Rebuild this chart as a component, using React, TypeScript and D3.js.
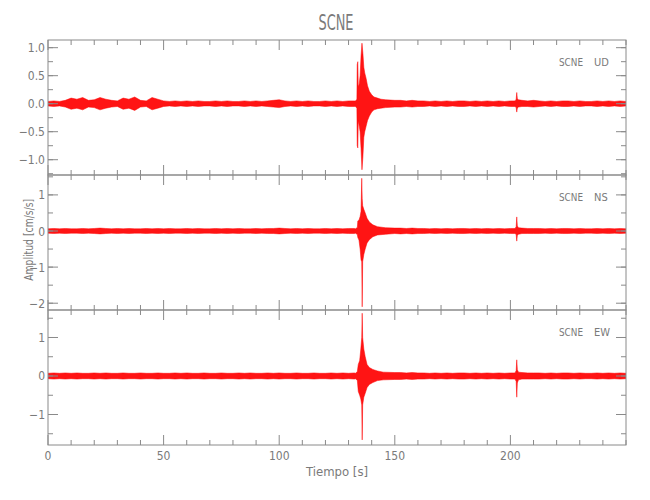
import React from "react";
import * as d3 from "d3";

// ---------- DATA ----------
const timeDomain = [0, 250];
const bgStep = 2.5; // seconds between background envelope readings
const channels = ["UD", "NS", "EW"];
const station = "SCNE";

// background half-width of the trace (hundredths of cm/s/s), every 2.5 s from 0 to 250 s
const udBackground = [
  4, 5, 4, 6, 10, 8, 11, 6, 7, 11,
  8, 6, 5, 10, 8, 12, 6, 5, 11, 8,
  5, 4, 5, 4, 5, 4, 5, 4, 4, 5,
  4, 5, 4, 4, 5, 4, 5, 4, 5, 6,
  7, 5, 4, 5, 4, 5, 4, 4, 5, 4,
  5, 4, 5, 5, 6, 6, 6, 6, 6, 6,
  6, 6, 5, 6, 5, 5, 4, 5, 4, 5,
  4, 5, 5, 4, 5, 4, 5, 4, 5, 4,
  5, 5, 6, 5, 6, 5, 4, 5, 4, 5,
  5, 4, 5, 4, 4, 5, 4, 5, 4, 5, 4,
];
const nsBackground = [
  6, 7, 6, 7, 6, 6, 7, 6, 7, 8,
  7, 6, 7, 6, 7, 6, 6, 7, 6, 7,
  6, 7, 6, 6, 7, 6, 7, 6, 6, 7,
  6, 7, 6, 7, 6, 6, 7, 6, 7, 7,
  8, 7, 6, 7, 6, 7, 6, 6, 7, 6,
  7, 6, 7, 7, 8, 8, 8, 8, 8, 8,
  8, 8, 7, 8, 7, 7, 6, 7, 6, 7,
  6, 7, 7, 6, 7, 6, 7, 6, 7, 6,
  7, 7, 8, 7, 7, 7, 6, 7, 6, 7,
  7, 6, 7, 6, 6, 7, 6, 7, 6, 7, 6,
];
const ewBackground = [
  7, 8, 7, 8, 7, 8, 7, 7, 8, 7,
  8, 7, 7, 8, 7, 7, 8, 7, 7, 8,
  7, 7, 8, 7, 8, 7, 7, 8, 7, 7,
  8, 7, 7, 8, 7, 8, 7, 7, 8, 7,
  8, 7, 7, 8, 7, 7, 8, 7, 7, 8,
  7, 8, 7, 8, 9, 9, 9, 9, 9, 9,
  9, 9, 8, 9, 8, 8, 7, 8, 7, 8,
  7, 8, 8, 7, 8, 7, 8, 7, 8, 7,
  8, 8, 9, 8, 8, 8, 7, 8, 7, 8,
  8, 7, 8, 7, 7, 8, 7, 8, 7, 8, 7,
];

// event envelopes: [time s, max, min] in cm/s/s
const udEvent = [
  [133.0, 0.05, -0.05], [133.6, 0.08, -0.08], [133.75, 0.7, -0.75], [134.0, 0.75, -0.79],
  [134.2, 0.3, -0.3], [134.6, 0.35, -0.4], [135.0, 0.5, -0.5], [135.4, 0.85, -0.8],
  [135.8, 1.08, -1.18], [136.2, 0.9, -0.95], [136.6, 0.65, -0.6], [137.0, 0.55, -0.5],
  [137.6, 0.45, -0.4], [138.2, 0.32, -0.3], [139.0, 0.22, -0.22], [140.0, 0.16, -0.15],
  [141.0, 0.12, -0.11], [142.5, 0.1, -0.09], [144.0, 0.08, -0.08], [146.0, 0.07, -0.07],
  [150.0, 0.06, -0.06],
];
const nsEvent = [
  [133.0, 0.06, -0.06], [133.8, 0.1, -0.1], [134.0, 0.28, -0.18], [134.5, 0.3, -0.25],
  [135.0, 0.4, -0.5], [135.4, 0.55, -0.8], [135.7, 1.46, -0.85], [135.9, 0.9, -2.1],
  [136.1, 0.7, -0.85], [136.6, 0.6, -0.65], [137.2, 0.5, -0.5], [138.0, 0.35, -0.33],
  [139.0, 0.25, -0.24], [140.5, 0.17, -0.16], [142.5, 0.12, -0.11], [146.0, 0.09, -0.09],
  [150.0, 0.08, -0.07],
];
const ewEvent = [
  [133.0, 0.07, -0.07], [133.8, 0.12, -0.12], [134.2, 0.3, -0.4], [134.8, 0.4, -0.5],
  [135.3, 0.7, -0.6], [135.7, 1.0, -0.75], [135.9, 1.63, -1.66], [136.1, 1.0, -0.75],
  [136.6, 0.7, -0.55], [137.2, 0.5, -0.45], [138.0, 0.3, -0.3], [139.0, 0.22, -0.22],
  [140.5, 0.17, -0.17], [142.5, 0.13, -0.12], [145.0, 0.1, -0.1], [150.0, 0.09, -0.09],
];
const udEvent2 = [
  [202.0, 0.05, -0.05], [202.5, 0.08, -0.07], [202.75, 0.2, -0.15], [203.0, 0.09, -0.08],
  [203.5, 0.07, -0.06], [205.0, 0.06, -0.05],
];
const nsEvent2 = [
  [202.0, 0.07, -0.07], [202.5, 0.12, -0.1], [202.75, 0.39, -0.28], [203.0, 0.14, -0.12],
  [203.5, 0.09, -0.09], [205.0, 0.08, -0.07],
];
const ewEvent2 = [
  [202.0, 0.08, -0.08], [202.5, 0.14, -0.14], [202.75, 0.42, -0.55], [203.0, 0.16, -0.18],
  [203.5, 0.1, -0.1], [205.0, 0.09, -0.08],
];

const yDomains = [
  [-1.273, 1.137],
  [-2.188, 1.551],
  [-1.792, 1.714],
];
const yMajorTicks = [
  [-1, -0.5, 0, 0.5, 1],
  [-2, -1, 0, 1],
  [-1, 0, 1],
];
const yMinorStep = [0.25, 0.5, 0.5];
const yTickDecimals = [1, 0, 0];
const xMajorTicks = [0, 50, 100, 150, 200];
const xMinorStep = 10;

const backgrounds = [udBackground, nsBackground, ewBackground];
const events = [
  [udEvent, udEvent2],
  [nsEvent, nsEvent2],
  [ewEvent, ewEvent2],
];

// ---------- LAYOUT ----------
const W = 650;
const H = 500;
const left = 48;
const right = 626;
const panelTop = 40;
const panelH = 135;
const axisColor = "#8a8a8a";
const textColor = "#7a7a7a";
const font = "'Liberation Sans Narrow', 'DejaVu Sans Condensed', 'Roboto Condensed', sans-serif";

function buildEnvelope(bg: number[], evs: number[][][]) {
  const windows = evs.map((e) => [e[0][0], e[e.length - 1][0]]);
  const pts: number[][] = [];
  bg.forEach((v, i) => {
    const t = i * bgStep;
    if (windows.some(([a, b]) => t >= a && t <= b)) return;
    pts.push([t, v / 100, -v / 100]);
  });
  evs.forEach((e) => e.forEach((p) => pts.push(p)));
  pts.sort((a, b) => a[0] - b[0]);
  return pts;
}

function fmt(v: number, dec: number) {
  const s = Math.abs(v).toFixed(dec);
  return v < 0 ? "\u2212" + s : s;
}

export default function App() {
  const x = d3.scaleLinear().domain(timeDomain).range([left, right]);
  const xMinor = d3.range(timeDomain[0], timeDomain[1] + 0.001, xMinorStep);
  const bottom = panelTop + panelH * 3;

  return (
    <svg
      width={W}
      height={H}
      style={{ position: "absolute", left: 0, top: 0, background: "#fff" }}
      fontFamily={font}
    >
      <rect x={0} y={0} width={W} height={H} fill="#fff" />
      <defs>
        {channels.map((c, i) => (
          <clipPath id={"clip" + i} key={c}>
            <rect x={left} y={panelTop + i * panelH} width={right - left} height={panelH} />
          </clipPath>
        ))}
      </defs>
      {channels.map((c, i) => {
        const top = panelTop + i * panelH;
        const bot = top + panelH;
        const y = d3.scaleLinear().domain(yDomains[i]).range([bot, top]);
        const env = buildEnvelope(backgrounds[i], events[i]);
        const area = d3
          .area<number[]>()
          .x((d) => x(d[0]))
          .y0((d) => y(d[2]))
          .y1((d) => y(d[1]));
        const minor = d3
          .range(Math.ceil(yDomains[i][0] / yMinorStep[i]), Math.floor(yDomains[i][1] / yMinorStep[i]) + 1)
          .map((k) => k * yMinorStep[i]);
        return (
          <g key={c}>
            <g clipPath={`url(#clip${i})`}>
              <path d={area(env) || ""} fill="#ff0000" fillOpacity={0.92} stroke="#ff0000" strokeWidth={0.5} />
            </g>
            <rect x={left} y={top} width={right - left} height={panelH} fill="none" stroke={axisColor} strokeWidth={1} />
            {/* y ticks */}
            {minor.map((v) => (
              <g key={"ym" + v} stroke={axisColor}>
                <line x1={left} x2={left + 5} y1={y(v)} y2={y(v)} />
                <line x1={right} x2={right - 5} y1={y(v)} y2={y(v)} />
              </g>
            ))}
            {yMajorTicks[i].map((v) => (
              <g key={"yM" + v}>
                <line x1={left} x2={left + 10} y1={y(v)} y2={y(v)} stroke={axisColor} />
                <line x1={right} x2={right - 10} y1={y(v)} y2={y(v)} stroke={axisColor} />
                <text x={left - 3} y={y(v) + 4.5} textAnchor="end" fontSize={12} fill={textColor}>
                  {fmt(v, yTickDecimals[i])}
                </text>
              </g>
            ))}
            {/* x ticks */}
            {xMinor.map((t) => {
              const len = xMajorTicks.includes(t) ? 10 : 5;
              return (
                <g key={"x" + t} stroke={axisColor}>
                  <line x1={x(t)} x2={x(t)} y1={top} y2={top + len} />
                  <line x1={x(t)} x2={x(t)} y1={bot} y2={bot - len} />
                </g>
              );
            })}
            <text x={559} y={top + 26} fontSize={11} fill={textColor} textLength={24} lengthAdjust="spacingAndGlyphs">
              {station}
            </text>
            <text x={594} y={top + 26} fontSize={11} fill={textColor}>
              {c}
            </text>
          </g>
        );
      })}
      {xMajorTicks.map((t) => (
        <text key={"xl" + t} x={x(t)} y={bottom + 15} textAnchor="middle" fontSize={12} fill={textColor}>
          {t}
        </text>
      ))}
      <text x={(left + right) / 2} y={bottom + 31} textAnchor="middle" fontSize={13} fill={textColor}>
        Tiempo [s]
      </text>
      <text
        transform={`translate(33, ${panelTop + panelH * 1.48}) rotate(-90)`}
        textAnchor="middle"
        fontSize={13}
        fill={textColor}
        textLength={82}
        lengthAdjust="spacingAndGlyphs"
      >
        Amplitud [cm/s/s]
      </text>
      <text
        x={336}
        y={30}
        textAnchor="middle"
        fontSize={21}
        fill={textColor}
        textLength={35}
        lengthAdjust="spacingAndGlyphs"
      >
        {station}
      </text>
    </svg>
  );
}
